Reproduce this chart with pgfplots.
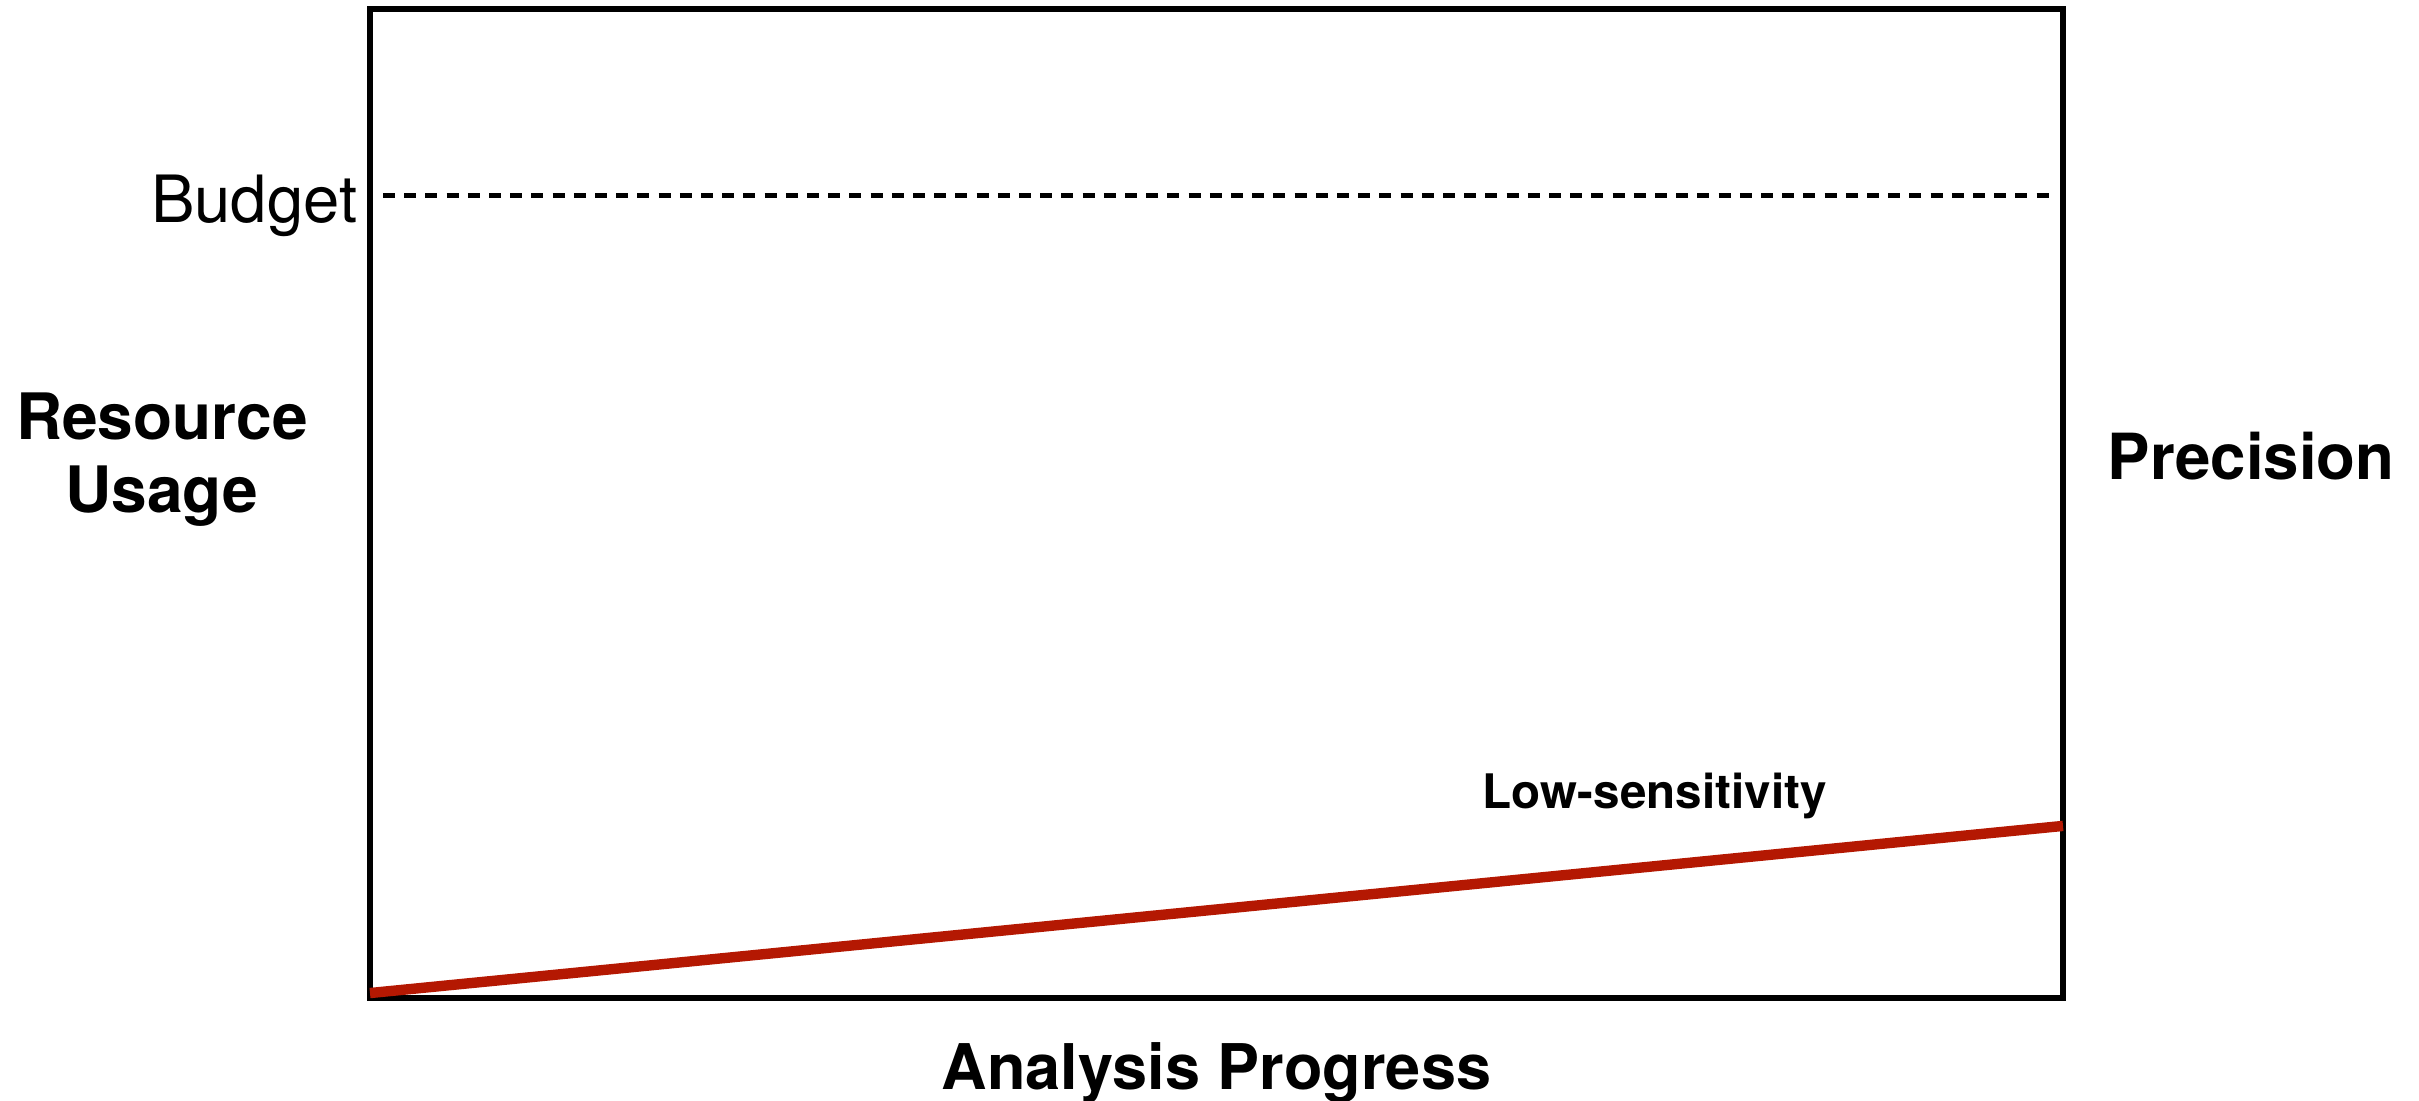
\documentclass[border=0pt]{standalone}
\usepackage{pgfplots}
\pgfplotsset{compat=1.18}
\usepackage{fontspec}
\setmainfont{TeX Gyre Heros}
\definecolor{lineRed}{RGB}{180,24,2}
\begin{document}
\begin{tikzpicture}
\begin{axis}[
  scale only axis,
  width=423.25pt, height=247.25pt,
  xmin=0, xmax=100, ymin=0, ymax=100,
  xtick=\empty, ytick=\empty,
  axis line style={line width=1.5pt, black},
  clip=false,
]
% Budget dashed line
\addplot[black, line width=1.25pt, dash pattern=on 3pt off 2.3pt] coordinates {(0.77,81.1) (99.35,81.1)};
% Low-sensitivity line
\addplot[lineRed, line width=2.6pt] coordinates {(0,0.5) (100,17.4)};
\node[anchor=base east, inner sep=0pt, font=\fontsize{16.3}{19.5}\selectfont] at (axis cs:-0.71,78.46) {Budget};
\node[anchor=base, inner sep=0pt, font=\fontsize{16}{19}\selectfont\bfseries] at (axis cs:-12.29,56.42) {Resource};
\node[anchor=base, inner sep=0pt, font=\fontsize{16}{19}\selectfont\bfseries] at (axis cs:-12.29,49.04) {Usage};
\node[anchor=base west, inner sep=0pt, font=\fontsize{15.9}{19}\selectfont\bfseries] at (axis cs:102.6,52.38) {Precision};
\node[anchor=base, inner sep=0pt, font=\fontsize{15.75}{18.75}\selectfont\bfseries] at (axis cs:50,-9.30) {Analysis Progress};
\node[anchor=base west, inner sep=0pt, font=\fontsize{11.9}{14.2}\selectfont\bfseries] at (axis cs:65.68,19.21) {Low-sensitivity};
\end{axis}
\pgfresetboundingbox
\path[use as bounding box] ([shift={(-92.5pt,-25.75pt)}]current axis.south west) rectangle ++(604.75pt,275.25pt);
\end{tikzpicture}
\end{document}
